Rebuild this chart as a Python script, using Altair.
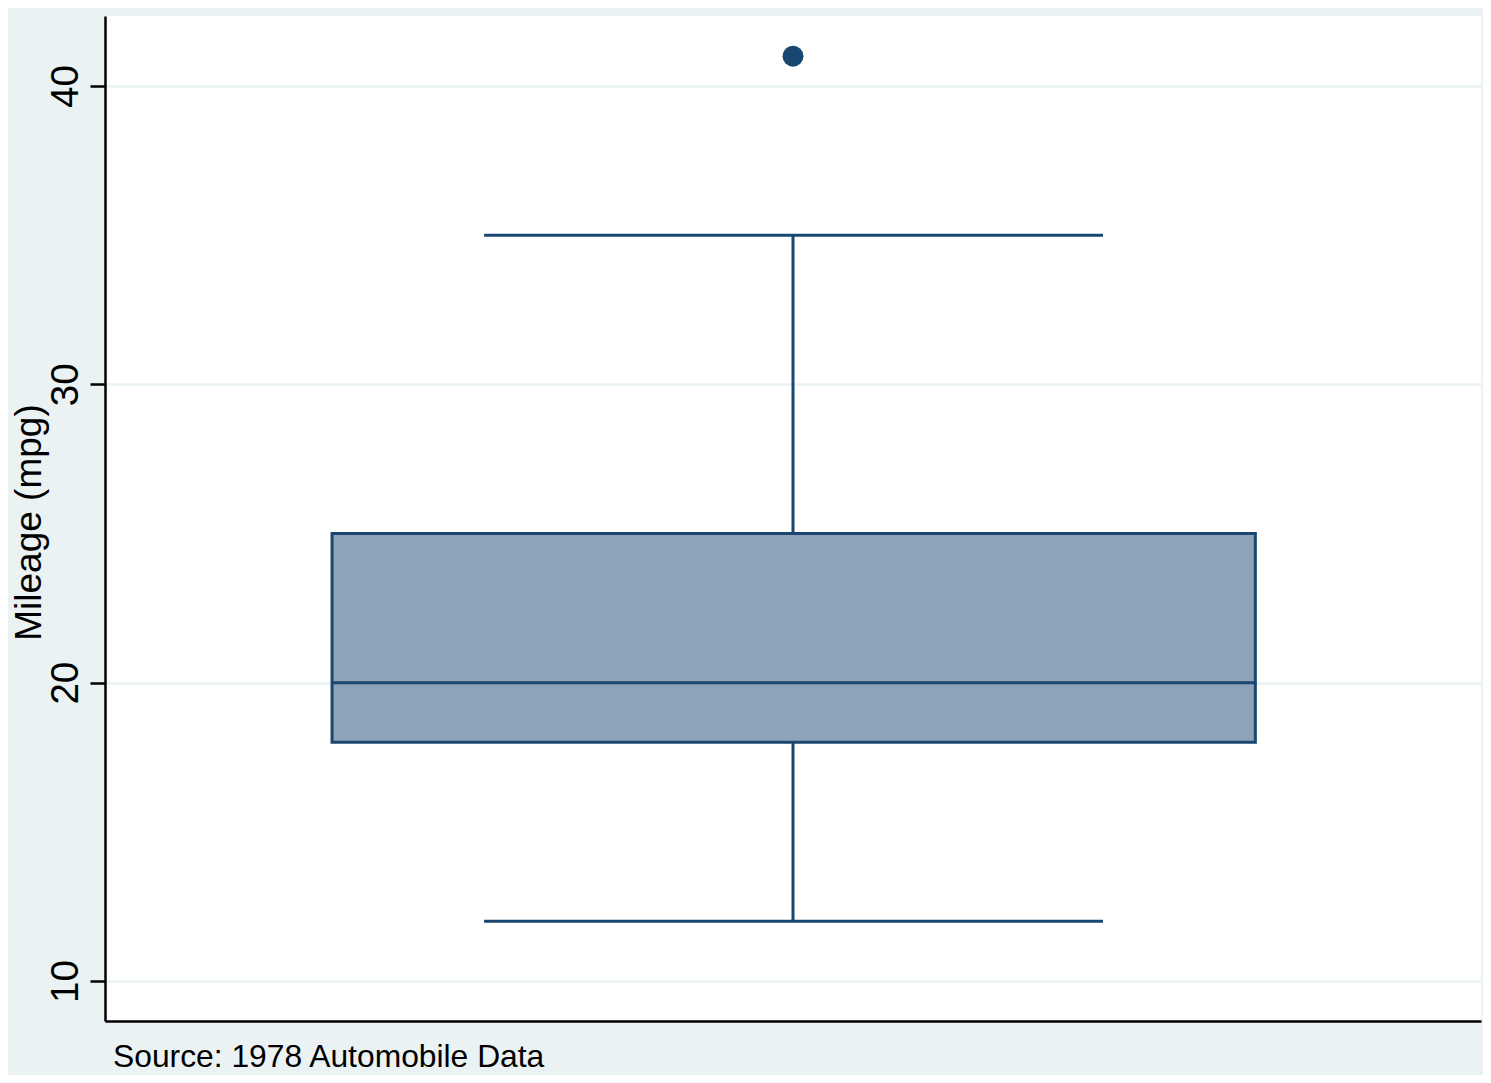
import altair as alt
import pandas as pd

# ---- data ----
variable = ["Mileage (mpg)"]
lower_adjacent = [12]
q1 = [18]
median = [20]
q3 = [25]
upper_adjacent = [35]
outliers = [41]
y_ticks = [10, 20, 30, 40]
y_title = "Mileage (mpg)"
source_note = "Source: 1978 Automobile Data"

stats = pd.DataFrame({"var": variable, "lo": lower_adjacent, "q1": q1,
                      "med": median, "q3": q3, "hi": upper_adjacent})
out_df = pd.DataFrame({"mpg": outliers})

# ---- styles / layout ----
NAVY = "#1A476F"
FILL = "#8EA3B8"
BG = "#EAF2F3"
FONT = "Liberation Sans"

BOX_L, BOX_R = 0.165, 0.836
CAP_L, CAP_R = 0.2755, 0.7253
CENTER = 0.5

xscale = alt.Scale(domain=[0, 1], nice=False, zero=False)
yscale = alt.Scale(domain=[8.659, 42.346], nice=False, zero=False)

xax = alt.Axis(title=None, labels=False, ticks=False, grid=False, domain=True,
               domainColor="black", domainWidth=2.5)
yax = alt.Axis(title=y_title, values=y_ticks, grid=True, gridColor=BG, gridWidth=2.5,
               domainColor="black", domainWidth=2.5, tickColor="black", tickWidth=2.5,
               tickSize=15, labelFont=FONT, labelFontSize=38.5, labelAngle=270,
               labelAlign="center", labelBaseline="alphabetic", labelPadding=13,
               labelColor="black", titleFont=FONT, titleFontSize=37, titleAngle=270,
               titleAlign="center", titleBaseline="alphabetic", titleX=-65, titleY=506,
               titleColor="black", titleFontWeight="normal")


def X(v):
    return alt.XDatum(v, type="quantitative", scale=xscale, axis=xax)


def Y(f):
    return alt.Y(f, type="quantitative", scale=yscale, axis=yax)


base = alt.Chart(stats)

box = base.mark_rect(fill=FILL, stroke=NAVY, strokeWidth=3).encode(
    x=X(BOX_L), x2=alt.X2Datum(BOX_R), y=Y("q1"), y2="q3")
med = base.mark_rule(color=NAVY, strokeWidth=3).encode(
    x=X(BOX_L), x2=alt.X2Datum(BOX_R), y=Y("med"))
whisk_hi = base.mark_rule(color=NAVY, strokeWidth=3).encode(
    x=X(CENTER), y=Y("q3"), y2="hi")
whisk_lo = base.mark_rule(color=NAVY, strokeWidth=3).encode(
    x=X(CENTER), y=Y("lo"), y2="q1")
cap_hi = base.mark_rule(color=NAVY, strokeWidth=3).encode(
    x=X(CAP_L), x2=alt.X2Datum(CAP_R), y=Y("hi"))
cap_lo = base.mark_rule(color=NAVY, strokeWidth=3).encode(
    x=X(CAP_L), x2=alt.X2Datum(CAP_R), y=Y("lo"))
pts = alt.Chart(out_df).mark_circle(color=NAVY, opacity=1, size=440).encode(
    x=X(CENTER), y=Y("mpg"))

chart = alt.layer(whisk_hi, whisk_lo, cap_hi, cap_lo, box, med, pts).properties(
    width=1376, height=1005,
    autosize=alt.AutoSizeParams(type="none"),
    padding={"left": 97, "top": 8, "right": 2, "bottom": 54},
    background=BG,
    title=alt.TitleParams(text=source_note, orient="bottom", anchor="start", frame="group",
                          font=FONT, fontSize=31.8, fontWeight="normal", color="black",
                          baseline="alphabetic", offset=46, dx=8),
).configure_view(fill="white", strokeWidth=0)

chart.save("out.html", embed_options={"renderer": "svg", "actions": False})
